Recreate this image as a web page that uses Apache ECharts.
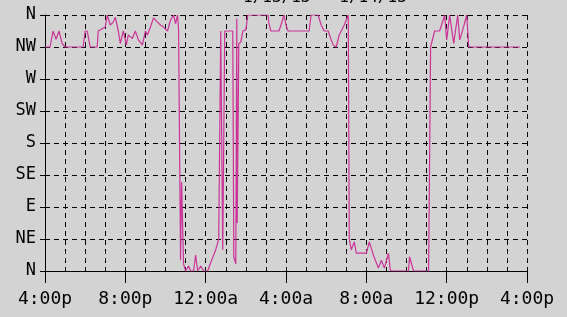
<!DOCTYPE html>
<html>
<head>
<meta charset="utf-8">
<script src="https://cdn.jsdelivr.net/npm/echarts@6/dist/echarts.min.js"></script>
<style>
html,body{margin:0;padding:0;background:#d3d3d3;}
#c{width:567px;height:317px;}
</style>
</head>
<body>
<div id="c"></div>
<script>
// Hours since 4:00p (start of window)
const hours = [
  0, 0.25, 0.4, 0.55, 0.7, 0.85, 1.0, 1.9, 2.0, 2.1, 2.25, 2.6, 2.65, 3.0, 3.1, 3.25, 3.4, 3.5, 3.65, 3.75,
  3.9, 4.05, 4.15, 4.35, 4.5, 4.65, 4.85, 5.0, 5.1, 5.25, 5.4, 5.6, 5.75, 5.9, 6.1, 6.25, 6.4, 6.5, 6.6, 6.65,
  6.75, 6.8, 6.9, 7.0, 7.15, 7.25, 7.4, 7.5, 7.6, 7.75, 7.9, 8.1, 8.25, 8.4, 8.5, 8.6, 8.65,
  8.75, 8.85, 8.95, 9.1, 9.35, 9.4, 9.5, 9.55, 9.57, 9.65, 9.75, 9.85, 10.0, 10.1, 11.1, 11.15, 11.25, 11.65,
  11.75, 11.9, 12.0, 12.1, 13.15, 13.25, 13.6, 13.75, 13.9, 14.1, 14.25, 14.35, 14.5, 14.65, 14.9, 15.1,
  15.15, 15.25, 15.4, 15.5, 16.0, 16.15, 16.35, 16.6, 16.75, 16.9, 17.1, 17.2, 18.1, 18.15, 18.35, 19.1,
  19.2, 19.4, 19.65, 19.9, 20.0, 20.15, 20.35, 20.55, 20.65, 20.8, 21.0, 21.1, 23.65
];
// Wind direction in degrees (0 = N bottom, 360 = N top)
const directions = [
  315, 315, 337.5, 326, 337.5, 320, 315, 315, 337.5, 337.5, 315, 315, 337.5, 343, 360, 346, 350, 357, 337.5, 320,
  337.5, 318, 332, 327, 337.5, 325, 318, 337.5, 332, 343, 356, 350, 346, 343, 337.5, 353, 360, 348, 360, 340,
  15, 125, 10, 0, 7, 0, 0, 22.5, 0, 7, 0, 0, 12, 22.5, 30, 40, 45,
  337.5, 30, 337.5, 337.5, 337.5, 20, 10, 355, 67.5, 320, 322, 337.5, 339, 360, 360, 348, 337.5, 337.5,
  346, 360, 346, 337.5, 337.5, 360, 360, 346, 337.5, 337.5, 325, 318, 315, 332, 346, 360,
  45, 30, 41, 25, 25, 41, 22.5, 4, 15, 4, 25, 0, 0, 20, 0, 0,
  315, 337.5, 337.5, 360, 325, 360, 320, 360, 325, 339, 360, 315, 315
];
const xLabels = ['4:00p', '8:00p', '12:00a', '4:00a', '8:00a', '12:00p', '4:00p'];
const yLabels = ['N', 'NE', 'E', 'SE', 'S', 'SW', 'W', 'NW', 'N'];
const titleText = '1/13/13 - 1/14/13';

const seriesData = hours.map((h, i) => [h, directions[i]]);
const dash = { color: '#000', width: 1, type: [5, 4] };
const font = 'DejaVu Sans Mono';

const chart = echarts.init(document.getElementById('c'));
chart.setOption({
  animation: false,
  backgroundColor: '#d3d3d3',
  graphic: [{
    type: 'text', left: 243, top: -10,
    style: { text: titleText, font: '16px "DejaVu Sans Mono"', fill: '#000' }
  }],
  grid: { left: 45, right: 40, top: 15, bottom: 46, containLabel: false },
  xAxis: {
    type: 'value', min: 0, max: 24, interval: 4,
    axisLine: { show: true, lineStyle: { color: '#000', width: 1 } },
    axisTick: { show: true, length: 12, lineStyle: { color: '#000', width: 1 } },
    axisLabel: { color: '#000', fontFamily: font, fontSize: 18, margin: 19,
      formatter: v => xLabels[Math.round(v / 4)] },
    splitLine: { show: true, lineStyle: dash },
    minorTick: { show: false, splitNumber: 4 },
    minorSplitLine: { show: true, lineStyle: dash }
  },
  yAxis: {
    type: 'value', min: 0, max: 360, interval: 45,
    axisLine: { show: true, lineStyle: { color: '#000', width: 1 } },
    axisTick: { show: true, length: 5, lineStyle: { color: '#000', width: 1 } },
    axisLabel: { color: '#000', fontFamily: font, fontSize: 17, margin: 9,
      formatter: v => yLabels[Math.round(v / 45)] },
    splitLine: { show: true, lineStyle: dash }
  },
  series: [{
    type: 'line',
    data: seriesData,
    showSymbol: false,
    lineStyle: { color: '#cc3399', width: 1.2 },
    clip: true
  }]
});
</script>
</body>
</html>
